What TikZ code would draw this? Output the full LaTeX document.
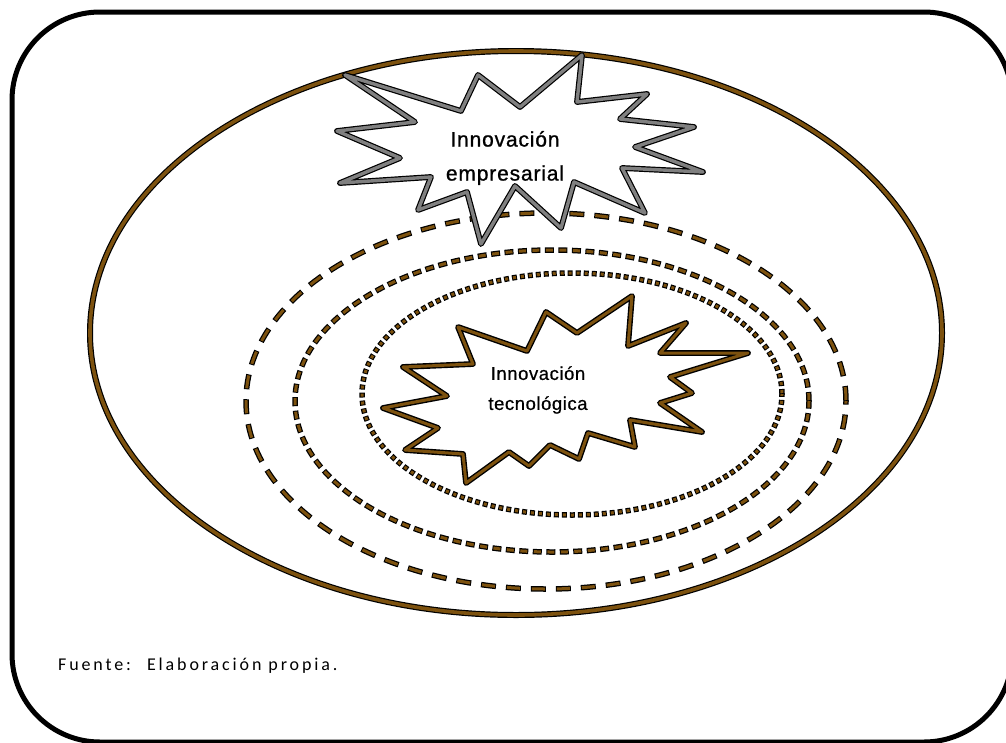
\documentclass[tikz,border=0pt]{standalone}
\usepackage{fontspec}
\setmainfont{Liberation Sans}
\newfontfamily\starfontA[LetterSpace=4,FakeBold=0.9]{Liberation Sans}
\newfontfamily\starfontB[LetterSpace=3,FakeBold=0.6]{Liberation Sans}
\newfontfamily\notefont[LetterSpace=16]{Carlito}
\definecolor{ringbrown}{RGB}{125,82,15}
\definecolor{stargray}{RGB}{128,128,128}
\tikzset{
  frameline/.style={line width=5pt, rounded corners=88pt},
  rimblack/.style={draw=black, line width=6pt},
  rimbrown/.style={draw=ringbrown, line width=3.6pt},
  dashblack/.style={draw=black, line width=5.5pt, dash pattern=on 15pt off 10pt},
  dashbrown/.style={draw=ringbrown, line width=3pt, dash pattern=on 13pt off 12pt, dash phase=24pt},
  shortblack/.style={draw=black, line width=5.5pt, dash pattern=on 9pt off 4.5pt},
  shortbrown/.style={draw=ringbrown, line width=3pt, dash pattern=on 7pt off 6.5pt, dash phase=12.5pt},
  dotblack/.style={draw=black, line width=5.5pt, dash pattern=on 5pt off 3pt},
  dotbrown/.style={draw=ringbrown, line width=3pt, dash pattern=on 3pt off 5pt, dash phase=7pt},
  starblack/.style={draw=black, line width=5.8pt, line join=round, fill=white},
  stargrayline/.style={draw=stargray, line width=3.4pt, line join=round},
  starbrownline/.style={draw=ringbrown, line width=3pt, line join=round},
  startext/.style={align=center, inner sep=0pt},
}
\begin{document}
\begin{tikzpicture}[x=1pt, y=-1pt]
\useasboundingbox (0,0) rectangle (1006,742);

% outer frame
\draw[frameline] (12,12) rectangle (1012,742);

% solid outer ring
\path[rimblack] (516,333) ellipse [x radius=426pt, y radius=282pt];
\path[rimbrown] (516,333) ellipse [x radius=426pt, y radius=282pt];

% long-dashed ring
\path[dashblack] (546,401) ellipse [x radius=300pt, y radius=188pt];
\path[dashbrown] (546,401) ellipse [x radius=300pt, y radius=188pt];

% short-dashed ring
\path[shortblack] (552,401) ellipse [x radius=257pt, y radius=151pt];
\path[shortbrown] (552,401) ellipse [x radius=257pt, y radius=151pt];

% dotted ring
\path[dotblack] (572,394) ellipse [x radius=210pt, y radius=121pt];
\path[dotbrown] (572,394) ellipse [x radius=210pt, y radius=121pt];

% business innovation burst
\def\topstar{(345,75) -- (461,111) -- (478,75) -- (520,107) -- (582,55) -- (577,102) -- (647,94) -- (620,119) -- (694,127) -- (635,147) -- (703,172) -- (622,168) -- (645,213) -- (574,182) -- (561,228) -- (515,186) -- (481,244) -- (467,192) -- (418,210) -- (431,177) -- (340,183) -- (400,158) -- (337,131) -- (415,122) -- cycle}
\path[starblack] \topstar;
\path[stargrayline] \topstar;

% technological innovation burst
\def\lowstar{(458,327) -- (527,351) -- (546,312) -- (577,333) -- (632,296) -- (628,346) -- (686,323) -- (660,353) -- (748,353) -- (670,377) -- (692,393) -- (660,403) -- (702,432) -- (630,420) -- (635,447) -- (588,433) -- (579,459) -- (550,445) -- (529,466) -- (509,452) -- (466,483) -- (463,454) -- (405,450) -- (438,428) -- (383,408) -- (447,396) -- (403,367) -- (473,364) -- cycle}
\path[starblack] \lowstar;
\path[starbrownline] \lowstar;

% labels
\node[startext, font={\starfontA\fontsize{21pt}{34pt}\selectfont}] (empresarial) at (505,158) {Innovación\\empresarial};
\node[startext, font={\starfontB\fontsize{18.5pt}{30pt}\selectfont}] (tecnologica) at (538,390) {Innovación\\tecnológica};

% source note
\node[anchor=base west, inner sep=0pt, font={\notefont\fontsize{18pt}{21pt}\selectfont}] (fuente) at (58,670) {Fuente:\hspace{16pt}Elaboración propia.};
\end{tikzpicture}
\end{document}
